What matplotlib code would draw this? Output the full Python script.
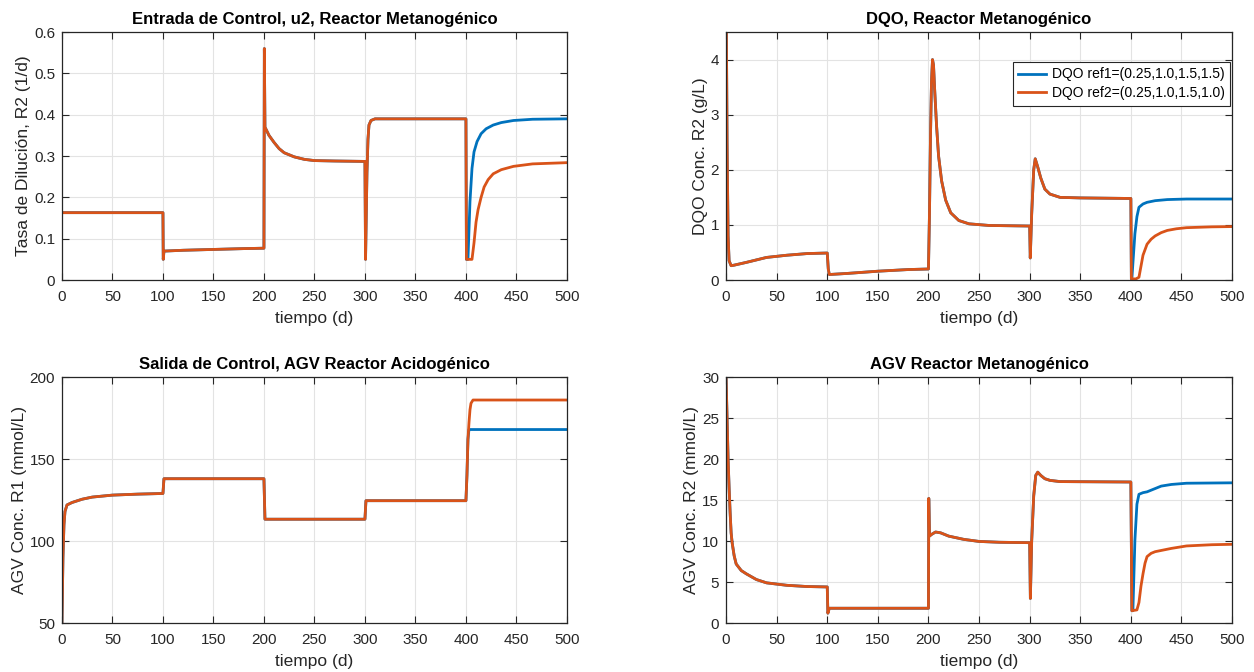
import numpy as np
import matplotlib.pyplot as plt

plt.rcParams['font.family'] = ['Liberation Sans', 'DejaVu Sans']

# ---- u2, dilution rate R2 (1/d) ----
u2_t_common = [0, 100, 100.3, 101, 120, 150, 180, 200, 200.4, 201, 205, 210, 215, 220,
               230, 240, 250, 270, 300, 300.6, 302, 303, 304, 306, 310, 400, 400.5]
u2_common = [0.163, 0.163, 0.05, 0.07, 0.072, 0.074, 0.076, 0.077, 0.56, 0.37, 0.35,
             0.333, 0.318, 0.308, 0.298, 0.292, 0.289, 0.288, 0.287, 0.05, 0.26, 0.34,
             0.375, 0.386, 0.39, 0.39, 0.05]
u2_t_ref1 = [402, 404, 406, 408, 411, 415, 420, 427, 435, 447, 466, 500]
u2_ref1 = [0.05, 0.19, 0.27, 0.31, 0.335, 0.354, 0.366, 0.375, 0.381, 0.386, 0.389, 0.39]
u2_t_ref2 = [406, 408, 410, 412, 415, 418, 422, 427, 435, 447, 466, 500]
u2_ref2 = [0.05, 0.09, 0.14, 0.17, 0.2, 0.225, 0.243, 0.257, 0.267, 0.275, 0.281, 0.284]

# ---- DQO R2 (g/L) ----
dqo_t_common = [0, 1, 2, 3, 5, 8, 20, 40, 60, 80, 100, 101, 102, 120, 150, 180, 200,
                201, 202, 203, 204, 205, 206, 208, 210, 213, 217, 222, 230, 240, 260,
                300, 300.6, 302, 304, 305.5, 308, 311, 315, 320, 330, 350, 400, 400.5]
dqo_common = [5.5, 2.5, 0.8, 0.35, 0.26, 0.27, 0.32, 0.41, 0.45, 0.48, 0.49, 0.2, 0.1,
              0.12, 0.16, 0.19, 0.2, 1.2, 2.6, 3.6, 4.0, 3.9, 3.5, 2.8, 2.25, 1.8, 1.45,
              1.22, 1.08, 1.02, 0.99, 0.98, 0.4, 1.2, 2.0, 2.2, 2.05, 1.85, 1.65, 1.56,
              1.5, 1.49, 1.48, 0.02]
dqo_t_ref1 = [401, 402, 404, 406, 408, 412, 416, 424, 436, 455, 480, 500]
dqo_ref1 = [0.02, 0.3, 0.84, 1.15, 1.32, 1.38, 1.41, 1.44, 1.46, 1.47, 1.47, 1.47]
dqo_t_ref2 = [401, 405, 408, 410, 412, 416, 420, 424, 430, 436, 445, 455, 480, 500]
dqo_ref2 = [0.02, 0.02, 0.05, 0.25, 0.45, 0.65, 0.74, 0.8, 0.86, 0.9, 0.93, 0.95, 0.965, 0.97]

# ---- AGV R1 (mmol/L) ----
agv1_t_common = [0, 1, 2, 3, 5, 10, 20, 30, 50, 75, 100, 101, 200, 201, 300, 301, 400, 401, 402]
agv1_common = [50, 90, 110, 118, 122, 123.5, 125.5, 126.8, 128, 128.6, 129, 138, 138,
               113.3, 113.3, 124.6, 124.6, 140, 162]
agv1_t_ref1 = [403, 500]
agv1_ref1 = [168, 168]
agv1_t_ref2 = [403, 404, 405, 407, 500]
agv1_ref2 = [172, 180, 184, 186, 186]

# ---- AGV R2 (mmol/L) ----
agv2_t_common = [0, 1, 2, 3, 4, 5, 6, 8, 10, 15, 20, 30, 40, 60, 80, 100, 100.6, 102,
                 200, 200.3, 201, 203, 207, 212, 220, 235, 250, 270, 300, 300.7, 302,
                 304, 306, 308, 311, 315, 320, 330, 400, 401]
agv2_common = [30, 25, 20, 16.5, 13.5, 11, 9.8, 8.2, 7.2, 6.4, 6.0, 5.3, 4.9, 4.6, 4.45,
               4.4, 1.2, 1.8, 1.8, 15.2, 10.6, 10.8, 11.1, 11.0, 10.6, 10.2, 9.95, 9.85,
               9.8, 3.0, 10, 15.5, 18.0, 18.4, 18.0, 17.6, 17.4, 17.25, 17.2, 1.5]
agv2_t_ref1 = [402, 404, 406, 408, 412, 416, 420, 424, 430, 440, 455, 500]
agv2_ref1 = [1.5, 10.1, 14.5, 15.7, 15.9, 16.0, 16.2, 16.4, 16.7, 16.9, 17.05, 17.1]
agv2_t_ref2 = [406, 408, 410, 412, 414, 416, 420, 424, 432, 440, 455, 480, 500]
agv2_ref2 = [1.6, 2.5, 4.5, 6.0, 7.3, 8.1, 8.5, 8.7, 8.9, 9.1, 9.4, 9.55, 9.6]

labels = ['DQO ref1=(0.25,1.0,1.5,1.5)', 'DQO ref2=(0.25,1.0,1.5,1.0)']
c1 = '#0072BD'
c2 = '#D95319'

fig = plt.figure(figsize=(12.54, 6.72), dpi=100)
pos = [[0.0494, 0.5833, 0.4027, 0.369], [0.579, 0.5833, 0.4035, 0.369],
       [0.0494, 0.0729, 0.4027, 0.366], [0.579, 0.0729, 0.4035, 0.366]]

panels = [
    (u2_t_common, u2_common, u2_t_ref1, u2_ref1, u2_t_ref2, u2_ref2,
     'Entrada de Control, u2, Reactor Metanogénico', 'Tasa de Dilución, R2 (1/d)',
     (0, 0.6), np.arange(0, 0.61, 0.1)),
    (dqo_t_common, dqo_common, dqo_t_ref1, dqo_ref1, dqo_t_ref2, dqo_ref2,
     'DQO, Reactor Metanogénico', 'DQO Conc. R2 (g/L)', (0, 4.5), [0, 1, 2, 3, 4]),
    (agv1_t_common, agv1_common, agv1_t_ref1, agv1_ref1, agv1_t_ref2, agv1_ref2,
     'Salida de Control, AGV Reactor Acidogénico', 'AGV Conc. R1 (mmol/L)',
     (50, 200), [50, 100, 150, 200]),
    (agv2_t_common, agv2_common, agv2_t_ref1, agv2_ref1, agv2_t_ref2, agv2_ref2,
     'AGV Reactor Metanogénico', 'AGV Conc. R2 (mmol/L)', (0, 30), [0, 5, 10, 15, 20, 25, 30]),
]

for i, (tc, yc, t1, y1, t2, y2, title, ylab, ylim, yticks) in enumerate(panels):
    ax = fig.add_axes(pos[i])
    ax.plot(tc + t1, yc + y1, color=c1, lw=2, label=labels[0])
    ax.plot(tc + t2, yc + y2, color=c2, lw=2, label=labels[1])
    ax.set_xlim(0, 500)
    ax.set_ylim(*ylim)
    ax.set_xticks(range(0, 501, 50))
    ax.set_yticks(yticks)
    if i == 0:
        ax.set_yticklabels(['0', '0.1', '0.2', '0.3', '0.4', '0.5', '0.6'])
    ax.grid(True, color='#e3e3e3', lw=0.8)
    ax.tick_params(direction='in', top=True, right=True, labelsize=11,
                   colors='#262626', length=5, width=0.8)
    ax.tick_params(axis='x', pad=7)
    ax.tick_params(axis='y', pad=5)
    for s in ax.spines.values():
        s.set_color('#262626')
        s.set_linewidth(0.9)
    ax.set_title(title, fontsize=12, fontweight='bold', pad=6)
    ax.set_xlabel('tiempo (d)', fontsize=12.5, color='#262626', labelpad=5)
    ax.set_ylabel(ylab, fontsize=12.5, color='#262626', labelpad=2)
    if i == 1:
        leg = ax.legend(loc='upper right', bbox_to_anchor=(0.996, 0.88), fontsize=10,
                        fancybox=False, framealpha=1, edgecolor='#262626',
                        handlelength=2.0, borderpad=0.4, labelspacing=0.35,
                        handletextpad=0.4, borderaxespad=0.0)
        leg.get_frame().set_linewidth(0.8)

fig.savefig('out.png', dpi=100)
